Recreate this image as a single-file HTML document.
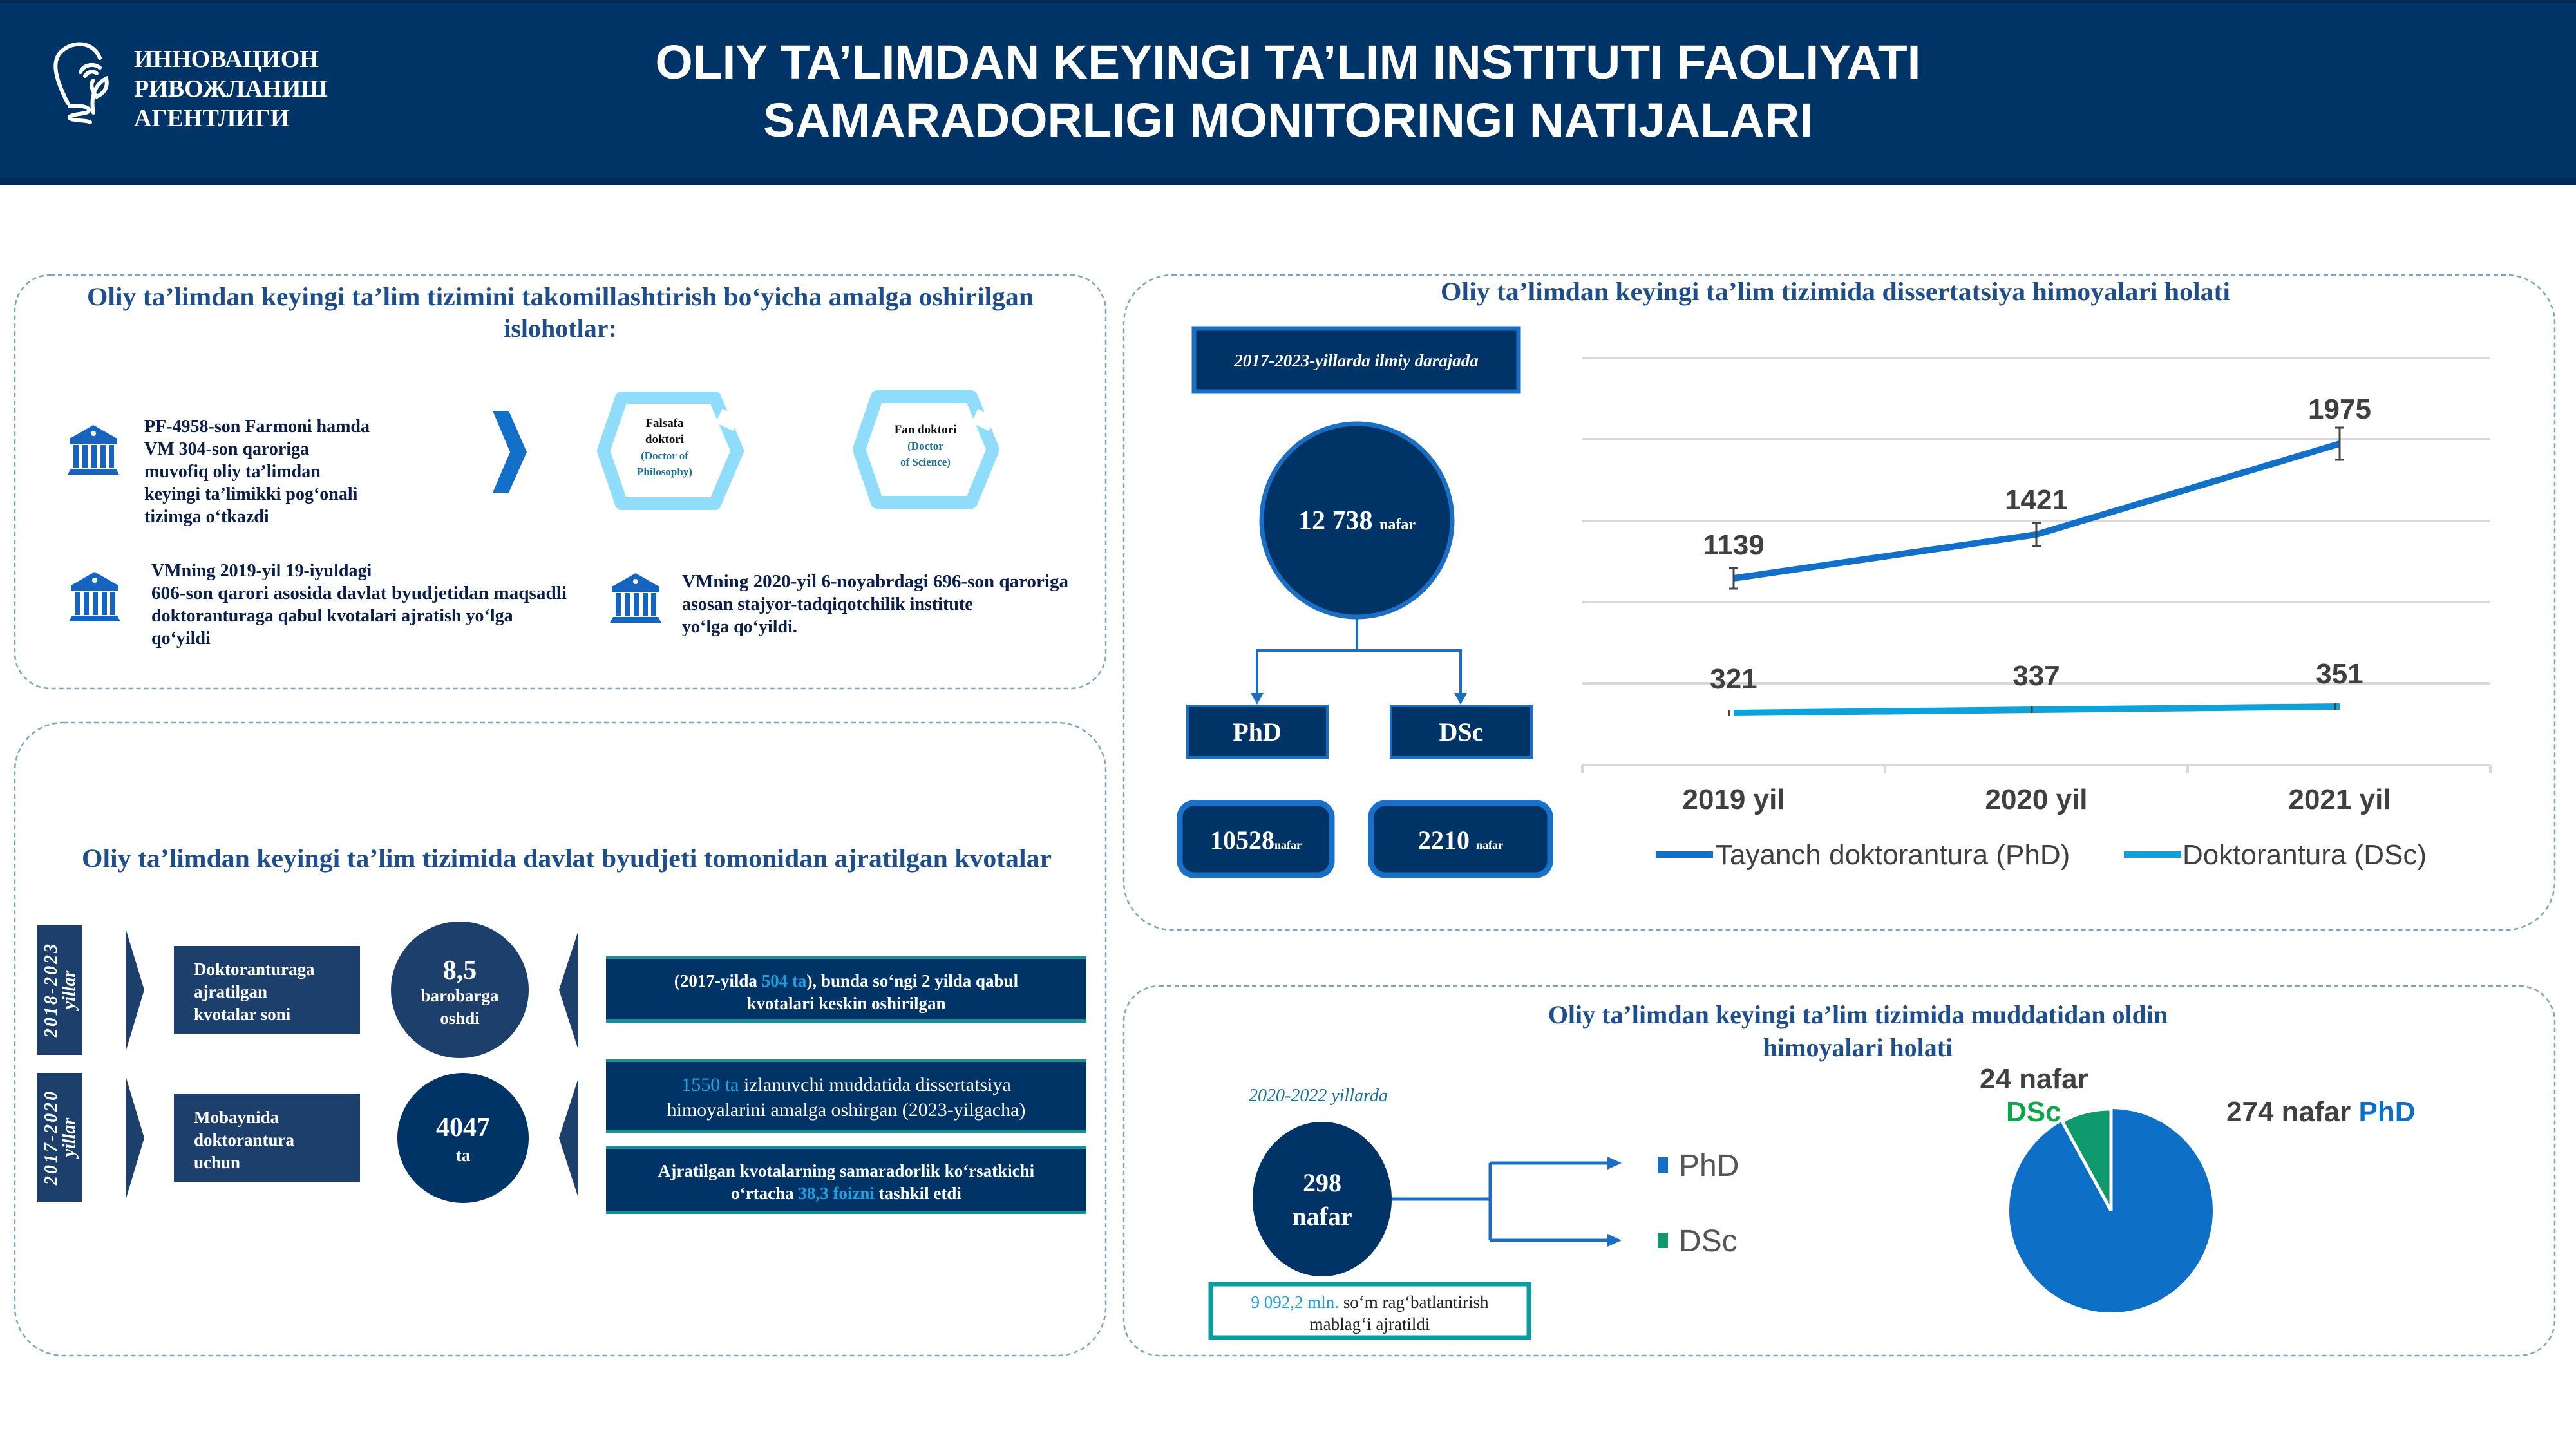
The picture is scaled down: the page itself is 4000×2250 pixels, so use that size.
<!DOCTYPE html>
<html><head><meta charset="utf-8"><style>
html,body{margin:0;padding:0;background:#fff}
svg{display:block}
.s{font-family:"Liberation Serif",serif;font-weight:bold}
.a{font-family:"Liberation Sans",sans-serif;font-weight:bold}
</style></head><body>
<svg width="4000" height="2250" viewBox="0 0 4000 2250" xmlns="http://www.w3.org/2000/svg">
<defs>
<g id="bank" fill="#1565c0">
<polygon points="37,0 72,20 2,20"/>
<rect x="0" y="20" width="74" height="9"/>
<rect x="6" y="31" width="8" height="36"/><rect x="20" y="31" width="8" height="36"/><rect x="34" y="31" width="8" height="36"/><rect x="48" y="31" width="8" height="36"/><rect x="61" y="31" width="8" height="36"/>
<polygon points="2,68 72,68 77,77 -3,77"/>
<circle cx="37" cy="13" r="4" fill="#fff"/>
</g>
</defs>
<rect x="0" y="0" width="4000" height="288" fill="#002a57"/>
<rect x="0" y="5" width="4000" height="272" fill="#003366"/>
<g fill="none" stroke="#fff" stroke-width="6" stroke-linecap="round">
<path d="M105,160 C85,120 80,95 95,80 C115,62 145,65 155,90"/>
<path d="M125,112 C130,100 145,98 155,105"/>
<path d="M132,118 C137,110 146,110 150,114"/>
<path d="M145,175 C140,150 148,130 165,122 C168,135 162,145 150,150"/>
<path d="M150,150 C142,140 140,130 145,125"/>
<path d="M108,165 C125,163 140,166 138,172 C136,178 110,176 108,182 C106,188 135,186 140,190"/>
</g>
<g class="s" fill="#fff" font-size="38">
<text x="208" y="104">ИННОВАЦИОН</text>
<text x="208" y="150">РИВОЖЛАНИШ</text>
<text x="208" y="196">АГЕНТЛИГИ</text>
</g>
<g class="a" fill="#fff" font-size="74" text-anchor="middle">
<text x="2000" y="122" textLength="1965" lengthAdjust="spacingAndGlyphs">OLIY TA’LIMDAN KEYINGI TA’LIM INSTITUTI FAOLIYATI</text>
<text x="2000" y="212" textLength="1630" lengthAdjust="spacingAndGlyphs">SAMARADORLIGI MONITORINGI NATIJALARI</text>
</g>

<g fill="none" stroke="#7aa6c2" stroke-width="2.5" stroke-dasharray="7,5">
<rect x="23" y="427" width="1694" height="642" rx="55"/>
<rect x="23" y="1122" width="1694" height="983" rx="75"/>
<rect x="1745" y="427" width="2222" height="1017" rx="75"/>
<rect x="1745" y="1531" width="2222" height="574" rx="55"/>
</g>

<g class="s" fill="#1f4e8c" font-size="40" text-anchor="middle">
<text x="870" y="474" textLength="1470" lengthAdjust="spacingAndGlyphs">Oliy ta’limdan keyingi ta’lim tizimini takomillashtirish bo‘yicha amalga oshirilgan</text>
<text x="870" y="523">islohotlar:</text>
</g>
<use href="#bank" x="108" y="660"/>
<use href="#bank" x="110" y="888"/>
<use href="#bank" x="950" y="890"/>
<g class="s" fill="#0b1f4a" font-size="28">
<text x="224" y="671">PF-4958-son Farmoni hamda</text>
<text x="224" y="706">VM 304-son qaroriga</text>
<text x="224" y="741">muvofiq oliy ta’limdan</text>
<text x="224" y="776">keyingi ta’limikki pog‘onali</text>
<text x="224" y="811">tizimga o‘tkazdi</text>
<text x="235" y="895">VMning 2019-yil 19-iyuldagi</text>
<text x="235" y="930" textLength="645" lengthAdjust="spacingAndGlyphs">606-son qarori asosida davlat byudjetidan maqsadli</text>
<text x="235" y="965">doktoranturaga qabul kvotalari ajratish yo‘lga</text>
<text x="235" y="1000">qo‘yildi</text>
<text x="1059" y="912" textLength="600" lengthAdjust="spacingAndGlyphs">VMning 2020-yil 6-noyabrdagi 696-son qaroriga</text>
<text x="1059" y="947">asosan stajyor-tadqiqotchilik institute</text>
<text x="1059" y="982">yo‘lga qo‘yildi.</text>
</g>
<polygon points="765,638 790,638 818,702 790,765 765,765 792,702" fill="#1270c9"/>
<g fill="none" stroke="#8fdcfb" stroke-width="20" stroke-linejoin="round">
<polygon points="965,618 1110,618 1145,700 1110,782 965,782 937,700"/>
<polygon points="1362,616 1508,616 1542,698 1508,780 1362,780 1334,698"/>
</g>
<rect x="1115" y="640" width="30" height="24" fill="#fff" transform="rotate(25 1130 652)"/>
<rect x="1512" y="640" width="30" height="24" fill="#fff" transform="rotate(25 1527 652)"/>
<g class="s" font-size="19" text-anchor="middle">
<text x="1032" y="663" fill="#111">Falsafa</text>
<text x="1032" y="688" fill="#111">doktori</text>
<text x="1032" y="713" fill="#1a7095" font-size="17">(Doctor of</text>
<text x="1032" y="738" fill="#1a7095" font-size="17">Philosophy)</text>
<text x="1437" y="673" fill="#111">Fan doktori</text>
<text x="1437" y="698" fill="#1a7095" font-size="17">(Doctor</text>
<text x="1437" y="723" fill="#1a7095" font-size="17">of Science)</text>
</g>

<text class="s" x="880" y="1346" fill="#1f4e8c" font-size="40" text-anchor="middle" textLength="1506" lengthAdjust="spacingAndGlyphs">Oliy ta’limdan keyingi ta’lim tizimida davlat byudjeti tomonidan ajratilgan kvotalar</text>
<rect x="58" y="1437" width="70" height="201" fill="#1d3f6b"/>
<rect x="58" y="1666" width="70" height="201" fill="#1d3f6b"/>
<g class="s" fill="#fff" font-size="28" font-style="italic" text-anchor="middle">
<text transform="translate(88 1537) rotate(-90)" letter-spacing="3">2018-2023</text>
<text transform="translate(116 1537) rotate(-90)">yillar</text>
<text transform="translate(88 1766) rotate(-90)" letter-spacing="3">2017-2020</text>
<text transform="translate(116 1766) rotate(-90)">yillar</text>
</g>
<g fill="#1d3f6b">
<polygon points="196,1445 224,1537 196,1630"/>
<polygon points="196,1674 224,1767 196,1860"/>
<polygon points="898,1445 868,1537 898,1630"/>
<polygon points="898,1674 868,1767 898,1860"/>
<rect x="270" y="1469" width="289" height="136"/>
<rect x="270" y="1698" width="289" height="137"/>
<ellipse cx="714" cy="1537" rx="107" ry="106"/>
</g>
<ellipse cx="719" cy="1767" rx="102" ry="101" fill="#003366"/>
<g class="s" fill="#fff" font-size="27">
<text x="301" y="1514">Doktoranturaga</text>
<text x="301" y="1549">ajratilgan</text>
<text x="301" y="1584">kvotalar soni</text>
<text x="301" y="1744">Mobaynida</text>
<text x="301" y="1779">doktorantura</text>
<text x="301" y="1814">uchun</text>
</g>
<g class="s" fill="#fff" text-anchor="middle">
<text x="714" y="1520" font-size="42">8,5</text>
<text x="714" y="1555" font-size="27">barobarga</text>
<text x="714" y="1590" font-size="27">oshdi</text>
<text x="719" y="1764" font-size="42">4047</text>
<text x="719" y="1803" font-size="27">ta</text>
</g>
<g fill="#003366">
<rect x="941" y="1485" width="746" height="102"/>
<rect x="941" y="1645" width="746" height="113"/>
<rect x="941" y="1780" width="746" height="104"/>
</g>
<g fill="#16919a">
<rect x="941" y="1485" width="746" height="4"/><rect x="941" y="1583" width="746" height="5"/>
<rect x="941" y="1645" width="746" height="4"/><rect x="941" y="1754" width="746" height="5"/>
<rect x="941" y="1780" width="746" height="4"/><rect x="941" y="1880" width="746" height="5"/>
</g>
<g class="s" fill="#fff" font-size="27" text-anchor="middle">
<text x="1314" y="1532">(2017-yilda <tspan fill="#1ea0e0">504 ta</tspan>), bunda so‘ngi 2 yilda qabul</text>
<text x="1314" y="1567">kvotalari  keskin  oshirilgan</text>
<text x="1314" y="1694" font-weight="normal" font-size="30"><tspan fill="#1ea0e0">1550 ta</tspan> izlanuvchi muddatida dissertatsiya</text>
<text x="1314" y="1733" font-weight="normal" font-size="30">himoyalarini amalga oshirgan (2023-yilgacha)</text>
<text x="1314" y="1827">Ajratilgan kvotalarning samaradorlik ko‘rsatkichi</text>
<text x="1314" y="1862">o‘rtacha <tspan fill="#1ea0e0">38,3 foizni</tspan> tashkil etdi</text>
</g>

<text class="s" x="2850" y="466" fill="#1f4e8c" font-size="40" text-anchor="middle" textLength="1226" lengthAdjust="spacingAndGlyphs">Oliy ta’limdan keyingi ta’lim tizimida dissertatsiya himoyalari holati</text>
<rect x="1854" y="510" width="504" height="98" fill="#003366" stroke="#1a6fc4" stroke-width="7"/>
<text class="s" x="2106" y="569" fill="#fff" font-size="27" font-style="italic" text-anchor="middle">2017-2023-yillarda ilmiy darajada</text>
<ellipse cx="2107" cy="808" rx="148" ry="150" fill="#003366" stroke="#1a6fc4" stroke-width="7"/>
<text class="s" x="2107" y="822" fill="#fff" font-size="42" text-anchor="middle">12 738 <tspan font-size="24">nafar</tspan></text>
<g fill="none" stroke="#1a6fc4" stroke-width="4">
<path d="M2107,958 V1010 M1952,1010 H2268 M1952,1008 V1080 M2268,1008 V1080"/>
</g>
<polygon points="1942,1076 1962,1076 1952,1094" fill="#1a6fc4"/>
<polygon points="2258,1076 2278,1076 2268,1094" fill="#1a6fc4"/>
<rect x="1844" y="1096" width="217" height="80" fill="#003366" stroke="#1a6fc4" stroke-width="4"/>
<rect x="2160" y="1096" width="218" height="80" fill="#003366" stroke="#1a6fc4" stroke-width="4"/>
<g class="s" fill="#fff" font-size="40" text-anchor="middle">
<text x="1952" y="1150">PhD</text>
<text x="2269" y="1150">DSc</text>
</g>
<rect x="1832" y="1247" width="236" height="112" rx="22" fill="#003366" stroke="#1870c8" stroke-width="9"/>
<rect x="2129" y="1247" width="278" height="112" rx="22" fill="#003366" stroke="#1870c8" stroke-width="9"/>
<g class="s" fill="#fff" font-size="40" text-anchor="middle">
<text x="1950" y="1318">10528<tspan font-size="18">nafar</tspan></text>
<text x="2268" y="1318">2210 <tspan font-size="18">nafar</tspan></text>
</g>
<g stroke="#d9d9d9" stroke-width="4">
<line x1="2457" y1="556" x2="3867" y2="556"/>
<line x1="2457" y1="682" x2="3867" y2="682"/>
<line x1="2457" y1="809" x2="3867" y2="809"/>
<line x1="2457" y1="935" x2="3867" y2="935"/>
<line x1="2457" y1="1061" x2="3867" y2="1061"/>
<line x1="2457" y1="1188" x2="3867" y2="1188"/>
<line x1="2457" y1="1188" x2="2457" y2="1200"/>
<line x1="2927" y1="1188" x2="2927" y2="1200"/>
<line x1="3397" y1="1188" x2="3397" y2="1200"/>
<line x1="3867" y1="1188" x2="3867" y2="1200"/>
</g>
<polyline points="2692,898 3162,830 3633,689" fill="none" stroke="#1270c9" stroke-width="10"/>
<polyline points="2692,1107 3162,1102 3633,1097" fill="none" stroke="#0ea2d8" stroke-width="10"/>
<g stroke="#444" stroke-width="3" fill="none">
<path d="M2692,882 V914 M2685,882 H2699 M2685,914 H2699"/>
<path d="M3162,812 V848 M3155,812 H3169 M3155,848 H3169"/>
<path d="M3633,664 V714 M3626,664 H3640 M3626,714 H3640"/>
<path d="M2685,1102 V1112 M3155,1097 V1107 M3626,1092 V1102"/>
</g>
<g class="a" fill="#404040" font-size="44" text-anchor="middle">
<text x="2692" y="861">1139</text>
<text x="3162" y="791">1421</text>
<text x="3633" y="650">1975</text>
<text x="2692" y="1069">321</text>
<text x="3162" y="1064">337</text>
<text x="3633" y="1061">351</text>
<text x="2692" y="1256">2019 yil</text>
<text x="3162" y="1256">2020 yil</text>
<text x="3633" y="1256">2021 yil</text>
</g>
<line x1="2571" y1="1327" x2="2660" y2="1327" stroke="#1270c9" stroke-width="10"/>
<line x1="3298" y1="1327" x2="3387" y2="1327" stroke="#0ea2d8" stroke-width="10"/>
<g font-family="Liberation Sans,sans-serif" fill="#404040" font-size="44">
<text x="2664" y="1342">Tayanch doktorantura (PhD)</text>
<text x="3389" y="1342">Doktorantura (DSc)</text>
</g>

<g class="s" fill="#1f4e8c" font-size="40" text-anchor="middle">
<text x="2885" y="1589">Oliy ta’limdan keyingi ta’lim tizimida muddatidan oldin</text>
<text x="2885" y="1640">himoyalari holati</text>
</g>
<text x="2047" y="1710" font-family="Liberation Serif,serif" font-style="italic" fill="#1a7095" font-size="28" text-anchor="middle">2020-2022 yillarda</text>
<ellipse cx="2053" cy="1862" rx="108" ry="120" fill="#003366"/>
<g class="s" fill="#fff" font-size="40" text-anchor="middle">
<text x="2053" y="1850">298</text>
<text x="2053" y="1902">nafar</text>
</g>
<g fill="none" stroke="#1a6fc4" stroke-width="5">
<path d="M2161,1862 H2314 M2314,1806 V1926 M2314,1806 H2500 M2314,1926 H2500"/>
</g>
<polygon points="2496,1796 2518,1806 2496,1816" fill="#1a6fc4"/>
<polygon points="2496,1916 2518,1926 2496,1936" fill="#1a6fc4"/>
<rect x="2574" y="1797" width="16" height="24" fill="#1270c9"/>
<rect x="2574" y="1914" width="16" height="24" fill="#0e9a6c"/>
<g font-family="Liberation Sans,sans-serif" fill="#555" font-size="48">
<text x="2607" y="1826">PhD</text>
<text x="2607" y="1943">DSc</text>
</g>
<rect x="1880" y="1994" width="494" height="83" fill="#fff" stroke="#0e9a9e" stroke-width="7"/>
<g font-family="Liberation Serif,serif" fill="#222" font-size="27" text-anchor="middle">
<text x="2127" y="2031"><tspan fill="#1ea0e0">9 092,2 mln.</tspan> so‘m rag‘batlantirish</text>
<text x="2127" y="2065">mablag‘i ajratildi</text>
</g>
<circle cx="3278" cy="1880" r="158" fill="#0e6fc6"/>
<path d="M3278,1880 L3278,1722 A158,158 0 0 0 3202,1741 Z" fill="#0e9a6c" stroke="#fff" stroke-width="5"/>
<g class="a" font-size="44">
<text x="3074" y="1690" fill="#404040">24 nafar</text>
<text x="3115" y="1741" fill="#11a54a">DSc</text>
<text x="3457" y="1741" fill="#404040">274 nafar <tspan fill="#0e6fc6">PhD</tspan></text>
</g>
</svg>
</body></html>
